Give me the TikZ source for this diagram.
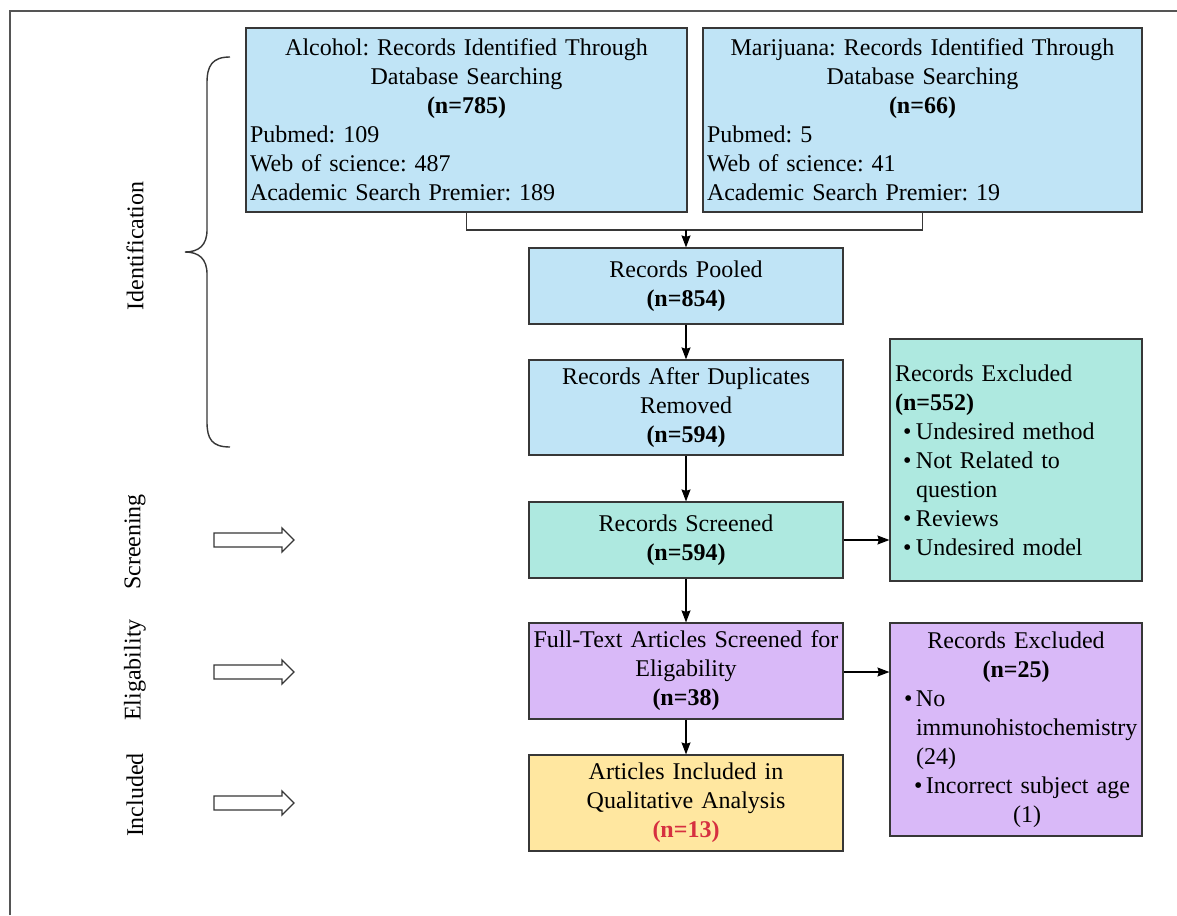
\documentclass[tikz,border=0pt]{standalone}
\usepackage{fontspec}
\setmainfont{Liberation Serif}
\frenchspacing
\usetikzlibrary{arrows.meta}
\definecolor{cblue}{RGB}{192,228,246}
\definecolor{cteal}{RGB}{174,233,224}
\definecolor{cpurp}{RGB}{217,185,248}
\definecolor{cyell}{RGB}{255,231,160}
\definecolor{cred}{RGB}{214,48,64}
\definecolor{cline}{RGB}{55,55,55}
\definecolor{cframe}{RGB}{85,85,85}
\newcommand{\bul}[1]{\makebox[#1][l]{•}}
\begin{document}
\begin{tikzpicture}[x=1pt,y=-1pt,
  txt/.style={font=\fontsize{24}{29}\selectfont\frenchspacing},
  box/.style={txt, draw=cline, line width=1.2pt, rectangle, inner xsep=4pt, inner ysep=0pt},
  cbox/.style={box, minimum width=314pt, text width=310pt, inner xsep=2pt, align=center},
  arr/.style={draw=black, line width=1.2pt, -{Stealth[length=12pt,width=9pt,inset=1.5pt]}},
  conn/.style={draw=cline, line width=1.2pt},
  hollow/.style={draw=cline, line width=1.3pt, fill=white},
  side/.style={txt, rotate=90, anchor=center}
]
\useasboundingbox (0,0) rectangle (1177,915);
\fill[white] (0,0) rectangle (1177,915);
% outer frame (cropped)
\draw[cframe, line width=1.5pt] (10,915) -- (10,11) -- (1177,11);

% top boxes
\node[box, fill=cblue, minimum width=441pt, minimum height=184pt, text width=433pt, align=left] (alc) at (466.5,120)
 {\makebox[\linewidth]{Alcohol: Records Identified Through}\\
  \makebox[\linewidth]{Database Searching}\\
  \makebox[\linewidth]{\bfseries (n=785)}\\
  Pubmed: 109\\
  Web of science: 487\\
  Academic Search Premier: 189};
\node[box, fill=cblue, minimum width=439pt, minimum height=184pt, text width=431pt, align=left] (mar) at (922.5,120)
 {\makebox[\linewidth]{Marijuana: Records Identified Through}\\
  \makebox[\linewidth]{Database Searching}\\
  \makebox[\linewidth]{\bfseries (n=66)}\\
  Pubmed: 5\\
  Web of science: 41\\
  Academic Search Premier: 19};

% central column
\node[cbox, fill=cblue, minimum height=76pt] (pool) at (686,286)
 {Records Pooled\\ \textbf{(n=854)}};
\node[cbox, fill=cblue, minimum height=95pt] (dup) at (686,407.5)
 {Records After Duplicates\\ Removed\\ \textbf{(n=594)}};
\node[cbox, fill=cteal, minimum height=76pt] (scr) at (686,540)
 {Records Screened\\ \textbf{(n=594)}};
\node[cbox, fill=cpurp, minimum height=96pt] (full) at (686,671)
 {Full-Text Articles Screened for\\ Eligability\\ \textbf{(n=38)}};
\node[cbox, fill=cyell, minimum height=96pt] (incl) at (686,803)
 {Articles Included in\\ Qualitative Analysis\\ \textcolor{cred}{\textbf{(n=13)}}};

% exclusion boxes
\node[box, fill=cteal, minimum width=252pt, minimum height=242pt, inner xsep=5pt, text width=242pt, align=left] (ex1) at (1016,460)
 {Records Excluded\\
  \textbf{(n=552)}\\
  \hspace*{8pt}\bul{13pt}Undesired method\\
  \hspace*{8pt}\bul{13pt}Not Related to\\
  \hspace*{21pt}question\\
  \hspace*{8pt}\bul{13pt}Reviews\\
  \hspace*{8pt}\bul{13pt}Undesired model};
\node[box, fill=cpurp, minimum width=252pt, minimum height=213pt, inner xsep=5pt, text width=242pt, align=left] (ex2) at (1016,729.5)
 {\makebox[\linewidth]{Records Excluded}\\
  \makebox[\linewidth]{\bfseries (n=25)}\\
  \hspace*{9pt}\bul{12pt}No\\
  \hspace*{21pt}\makebox[221pt][l]{immunohistochemistry}\\
  \hspace*{21pt}(24)\\
  \hspace*{19pt}\bul{12pt}Incorrect subject age\\
  \hspace*{118pt}(1)};

% connectors
\coordinate (j) at (686,230);
\draw[conn] (alc.south) |- (j);
\draw[conn] (mar.south) |- (j);
\draw[arr] (j) -- (pool.north);
\draw[arr] (pool) -- (dup);
\draw[arr] (dup) -- (scr);
\draw[arr] (scr) -- (full);
\draw[arr] (full) -- (incl);
\draw[arr] (scr.east) -- (scr.east -| ex1.west);
\draw[arr] ([yshift=-1pt]full.east) -- ([yshift=-1pt]full.east -| ex2.west);

% brace
\draw[cline, line width=1.4pt] (230,57) .. controls (212,57) and (207,66) .. (207,83)
  -- (207,230) .. controls (207,245) and (199,252) .. (185,252)
  .. controls (199,252) and (207,259) .. (207,274)
  -- (207,422) .. controls (207,439) and (212,447) .. (230,447);

% side labels
\node[side] (lid) at (135,246) {Identification};
\node[side] (lsc) at (135,542) {Screening};
\node[side] (lel) at (135,670) {Eligability};
\node[side] (lin) at (135,795) {Included};

% hollow arrows
\foreach \yy in {540,672,803}{
  \draw[hollow] (214,\yy-7) -- (282,\yy-7) -- (282,\yy-12) -- (294,\yy) -- (282,\yy+12) -- (282,\yy+7) -- (214,\yy+7) -- cycle;
}
\end{tikzpicture}
\end{document}
